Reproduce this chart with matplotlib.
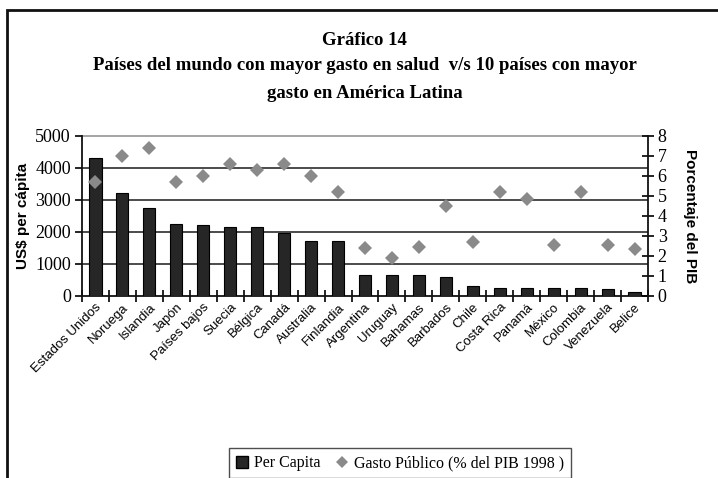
import numpy as np
import matplotlib.pyplot as plt
from matplotlib.patches import Rectangle
from matplotlib.lines import Line2D

paises = [
    "Estados Unidos", "Noruega", "Islandia", "Japón", "Países bajos",
    "Suecia", "Bélgica", "Canadá", "Australia", "Finlandia",
    "Argentina", "Uruguay", "Bahamas", "Barbados", "Chile",
    "Costa Rica", "Panamá", "México", "Colombia", "Venezuela", "Belice",
]
per_capita = [
    4300, 3200, 2730, 2250, 2200, 2150, 2150, 1970, 1700, 1700,
    640, 640, 640, 590, 300, 250, 250, 250, 250, 210, 100,
]
gasto_publico = [
    5.7, 7.0, 7.4, 5.7, 6.0, 6.6, 6.3, 6.6, 6.0, 5.2,
    2.4, 1.9, 2.45, 4.5, 2.7, 5.2, 4.85, 2.55, 5.2, 2.55, 2.33,
]

serif = "Liberation Serif"
sans = "Liberation Sans"

fig = plt.figure(figsize=(7.18, 4.78), dpi=100)
ax = fig.add_axes([0.1142, 0.3814, 0.7883, 0.3347])
ax2 = ax.twinx()

x = np.arange(len(paises))
ax.bar(x, per_capita, width=0.45, color="#262626", edgecolor="black", linewidth=0.8, zorder=3)
ax2.plot(x, gasto_publico, linestyle="none", marker="D", markersize=7,
         color="#8a8a8a", markeredgewidth=0, zorder=4)

ax.set_xlim(-0.5, len(paises) - 0.5)
ax.set_ylim(0, 5000)
ax2.set_ylim(0, 8)

# horizontal grid follows the left axis
for v in [1000, 2000, 3000, 4000]:
    ax.axhline(v, color="#1a1a1a", linewidth=1.1, zorder=1)
ax.axhline(5000, color="#8c8c8c", linewidth=1.1, zorder=1, clip_on=False)

ax.spines["top"].set_visible(False)
ax2.spines["top"].set_visible(False)
ax.spines["right"].set_visible(False)
ax2.spines["left"].set_visible(False)
ax2.spines["bottom"].set_visible(False)
for sp in [ax.spines["left"], ax.spines["bottom"], ax2.spines["right"]]:
    sp.set_linewidth(1.3)
    sp.set_color("#111111")

ax.set_yticks([0, 1000, 2000, 3000, 4000, 5000])
ax.tick_params(axis="y", direction="out", length=5, width=1.2, pad=3)
for lab in ax.get_yticklabels():
    lab.set_fontfamily(serif)
    lab.set_fontsize(13)

ax2.set_yticks(range(0, 9))
ax2.tick_params(axis="y", direction="inout", length=8, width=1.2, pad=3)
for lab in ax2.get_yticklabels():
    lab.set_fontfamily(serif)
    lab.set_fontsize(13)

# category ticks sit between the bars, labels at the bar centres
ax.set_xticks(np.arange(-0.5, len(paises)), labels=[""] * (len(paises) + 1))
ax.tick_params(axis="x", which="major", direction="inout", length=8, width=1.2)
ax.set_xticks(x, labels=paises, minor=True)
ax.tick_params(axis="x", which="minor", length=0, pad=4)
for lab in ax.get_xticklabels(minor=True):
    lab.set_rotation(45)
    lab.set_ha("right")
    lab.set_rotation_mode("anchor")
    lab.set_fontfamily(sans)
    lab.set_fontsize(9.5)

ax.set_ylabel("US$ per cápita", fontfamily=sans, fontweight="bold", fontsize=11, labelpad=4)
ax2.set_ylabel("Porcentaje del PIB", fontfamily=sans, fontweight="bold", fontsize=11,
               rotation=-90, labelpad=22)

fig.text(0.508, 0.915, "Gráfico 14", ha="center", va="center",
         fontfamily=serif, fontweight="bold", fontsize=13.5)
fig.text(0.508, 0.862, "Países del mundo con mayor gasto en salud  v/s 10 países con mayor",
         ha="center", va="center", fontfamily=serif, fontweight="bold", fontsize=13.5)
fig.text(0.508, 0.805, "gasto en América Latina", ha="center", va="center",
         fontfamily=serif, fontweight="bold", fontsize=13.5)

handles = [
    Line2D([], [], linestyle="none", marker="s", markersize=8, color="#262626",
           markeredgecolor="black"),
    Line2D([], [], linestyle="none", marker="D", markersize=6, color="#8a8a8a",
           markeredgewidth=0),
]
fig.legend(handles, ["Per Capita", "Gasto Público (% del PIB 1998 )"],
           loc="upper center", bbox_to_anchor=(0.557, 0.0628), ncol=2,
           prop={"family": serif, "size": 11.5}, frameon=True, fancybox=False,
           edgecolor="#222222", handlelength=0.8, handletextpad=0.3,
           columnspacing=1.0, borderpad=0.45, borderaxespad=0)

# outer frame of the chart area
fig.patches.append(Rectangle((0.0098, -0.05), 1.5, 1.029, transform=fig.transFigure,
                             fill=False, edgecolor="#111111", linewidth=2))

fig.savefig("out.png", dpi=100)
